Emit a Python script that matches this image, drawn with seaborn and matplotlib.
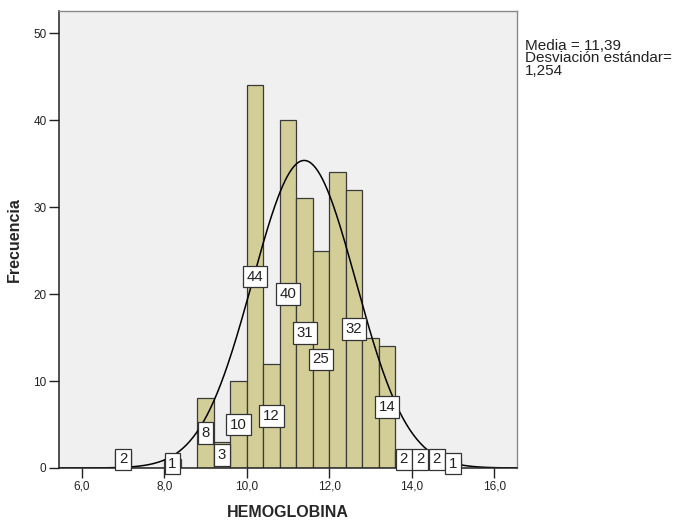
import numpy as np
import pandas as pd
import matplotlib
matplotlib.use("Agg")
import matplotlib.pyplot as plt
import seaborn as sns

# ---- data ----
bin_centers = [7.0, 8.2, 9.0, 9.4, 9.8, 10.2, 10.6, 11.0, 11.4, 11.8,
               12.2, 12.6, 13.0, 13.4, 13.8, 14.2, 14.6, 15.0]
counts = [2, 1, 8, 3, 10, 44, 12, 40, 31, 25, 34, 32, 15, 14, 2, 2, 2, 1]
show_label = [True, True, True, True, True, True, True, True, True, True,
              False, True, False, True, True, True, True, True]
mean_val = 11.39
sd_val = 1.254
bin_width = 0.4
x_ticks = [6.0, 8.0, 10.0, 12.0, 14.0, 16.0]
x_tick_labels = ["6,0", "8,0", "10,0", "12,0", "14,0", "16,0"]
y_ticks = [0, 10, 20, 30, 40, 50]
x_label = "HEMOGLOBINA"
y_label = "Frecuencia"
stats_text = "Media = 11,39\nDesviación estándar=\n1,254"

df = pd.DataFrame({"x": bin_centers, "n": counts})

sns.set_theme(style="white")
plt.rcParams["font.family"] = ["Liberation Sans", "DejaVu Sans"]

fig = plt.figure(figsize=(6.81, 5.2), dpi=100)
ax = fig.add_axes([0.0866, 0.1, 0.6722, 0.8794])
ax.set_facecolor("#F0F0F0")

sns.histplot(data=df, x="x", weights="n", binwidth=bin_width,
             binrange=(6.8, 15.2), color="#D3CE97", alpha=1.0,
             edgecolor="#3a3a3a", linewidth=0.9, ax=ax)

# normal curve
xlim = (5.45, 16.54)
xs = np.linspace(xlim[0], xlim[1], 400)
N = sum(counts)
ys = N * bin_width / (sd_val * np.sqrt(2 * np.pi)) * np.exp(-0.5 * ((xs - mean_val) / sd_val) ** 2)
sns.lineplot(x=xs, y=ys, color="black", linewidth=1.1, ax=ax)

# value labels
for xc, n, show in zip(bin_centers, counts, show_label):
    if show:
        ax.text(xc, n / 2, str(n), ha="center", va="center", fontsize=10.8,
                color="#222222", clip_on=False, zorder=5,
                bbox=dict(boxstyle="square,pad=0.25", facecolor="white",
                          edgecolor="#333333", linewidth=0.9))

ax.set_xlim(*xlim)
ax.set_ylim(0, 52.6)
ax.set_xticks(x_ticks)
ax.set_xticklabels(x_tick_labels)
ax.set_yticks(y_ticks)
ax.tick_params(axis="both", which="both", direction="out", length=7,
               width=1, color="#222222", labelsize=8.5, labelcolor="#222222",
               bottom=True, left=True, pad=2)
ax.set_xlabel(x_label, fontsize=11.5, fontweight="bold", labelpad=9)
ax.set_ylabel(y_label, fontsize=11.5, fontweight="bold", labelpad=8)

for s in ["left", "bottom"]:
    ax.spines[s].set_color("#222222")
    ax.spines[s].set_linewidth(1.1)
for s in ["top", "right"]:
    ax.spines[s].set_color("#8a8a8a")
    ax.spines[s].set_linewidth(1.0)

fig.text(0.771, 1 - 39 / 520, stats_text, ha="left", va="top",
         fontsize=11, linespacing=0.85, color="#222222")

fig.savefig("out.png", dpi=100, facecolor="white")
